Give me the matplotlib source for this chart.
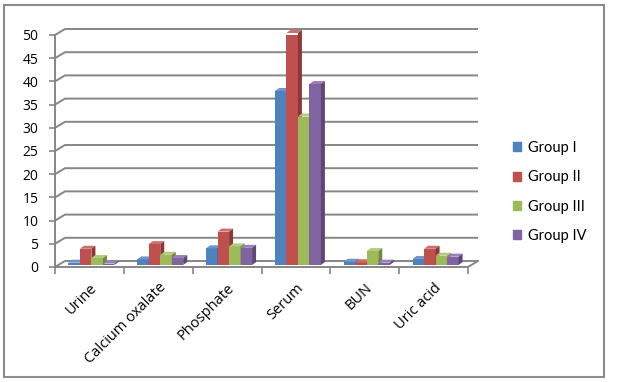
import matplotlib.pyplot as plt
import numpy as np
from matplotlib.patches import Polygon, Rectangle

#%%
# data
categories = ['Urine', 'Calcium oxalate', 'Phosphate', 'Serum', 'BUN', 'Uric acid']
groups = ['Group I', 'Group II', 'Group III', 'Group IV']
group1 = [0.5, 1.2, 3.6, 37.5, 0.7, 1.3]
group2 = [3.5, 4.5, 7.2, 50.0, 0.6, 3.5]
group3 = [1.5, 2.2, 4.0, 32.0, 3.0, 2.0]
group4 = [0.3, 1.5, 3.7, 39.0, 0.5, 1.8]
yticks = np.arange(0, 55, 5)

series = [group1, group2, group3, group4]
colors = ['#4F81BD', '#C0504D', '#9BBB59', '#8064A2']
tops = ['#6D97CC', '#D06E6B', '#B2CD7A', '#9A80BB']
sides = ['#385D8A', '#8C3836', '#71893F', '#5C4776']

plt.rcParams['font.family'] = ['Lato', 'DejaVu Sans']

#%%
W, H = 618, 382
fig = plt.figure(figsize=(W / 100, H / 100), dpi=100)
# front plane of the 3D plot, in pixels
x0, x1, y0, y1 = 55, 468, 267, 35
ax = fig.add_axes([x0 / W, 1 - y0 / H, (x1 - x0) / W, (y0 - y1) / H])
ax.set_xlim(-0.5, len(categories) - 0.5)
ax.set_ylim(0, 50)
ax.patch.set_visible(False)

pxx = (x1 - x0) / len(categories)   # pixels per x unit
pxy = (y0 - y1) / 50                 # pixels per y unit

def px(dx, dy):
    return dx / pxx, dy / pxy

# back wall gridlines
gc = '#868686'
wx, wy = px(10, 6)
xl, xr = ax.get_xlim()
for v in yticks:
    ax.plot([xl, xl + wx, xr + wx], [v, v + wy, v + wy], color=gc, lw=1.4,
            clip_on=False, zorder=1, solid_capstyle='butt')
# floor front edge and right edge
ax.plot([xl, xr, xr + wx], [0, 0, wy], color=gc, lw=1.4, clip_on=False, zorder=1)

# bars
bw = 0.167
bx, by = px(2, 2)
dx, dy = px(4, 3)
xs = np.arange(len(categories))
for i, vals in enumerate(series):
    pos = xs - 2 * bw + i * bw + bx
    bars = ax.bar(pos, vals, width=bw, bottom=by, align='edge', color=colors[i],
                  linewidth=0, zorder=3 + i * 0.01)
    for b in bars:
        l, r = b.get_x(), b.get_x() + b.get_width()
        t = b.get_y() + b.get_height()
        bt = b.get_y()
        ax.add_patch(Polygon([[l, t], [r, t], [r + dx, t + dy], [l + dx, t + dy]],
                             closed=True, fc=tops[i], lw=0, zorder=3 + i * 0.01, clip_on=False))
        ax.add_patch(Polygon([[r, bt], [r + dx, bt + dy], [r + dx, t + dy], [r, t]],
                             closed=True, fc=sides[i], lw=0, zorder=3 + i * 0.01, clip_on=False))
    bars.set_label(groups[i])

# axes styling
for s in ['top', 'right', 'bottom']:
    ax.spines[s].set_visible(False)
ax.spines['left'].set_color(gc)
ax.spines['left'].set_linewidth(1.4)
ax.set_yticks(yticks)
ax.tick_params(axis='y', colors=gc, labelcolor='black', length=4, width=1.2, pad=8)
for lab in ax.get_yticklabels():
    lab.set_fontfamily(['Open Sans', 'DejaVu Sans'])
    lab.set_fontsize(10)
ax.set_xticks(xs)
ax.set_xticks(np.arange(-0.5, len(categories), 1), minor=True)
ax.tick_params(axis='x', which='major', length=0, pad=9.5)
ax.tick_params(axis='x', which='minor', length=5, width=1.2, colors=gc)
ax.set_xticklabels(categories, rotation=45, ha='right', va='top',
                   rotation_mode='anchor', fontsize=10.5, family=['Open Sans', 'DejaVu Sans'])

# legend
handles = [Rectangle((0, 0), 1, 1, color=c) for c in colors]
fig.legend(handles, groups, loc='center left', bbox_to_anchor=(513 / W, 1 - 192 / H),
           frameon=False, fontsize=10.5, handlelength=0.55, handleheight=0.55,
           handletextpad=0.5, labelspacing=1.05, borderpad=0, borderaxespad=0)

# outer chart border
fig.patches.append(Rectangle((4 / W, 5 / H), 600 / W, 372 / H, transform=fig.transFigure,
                             fill=False, ec='#8C8C8C', lw=1.5))

fig.savefig('out.png', dpi=100)
